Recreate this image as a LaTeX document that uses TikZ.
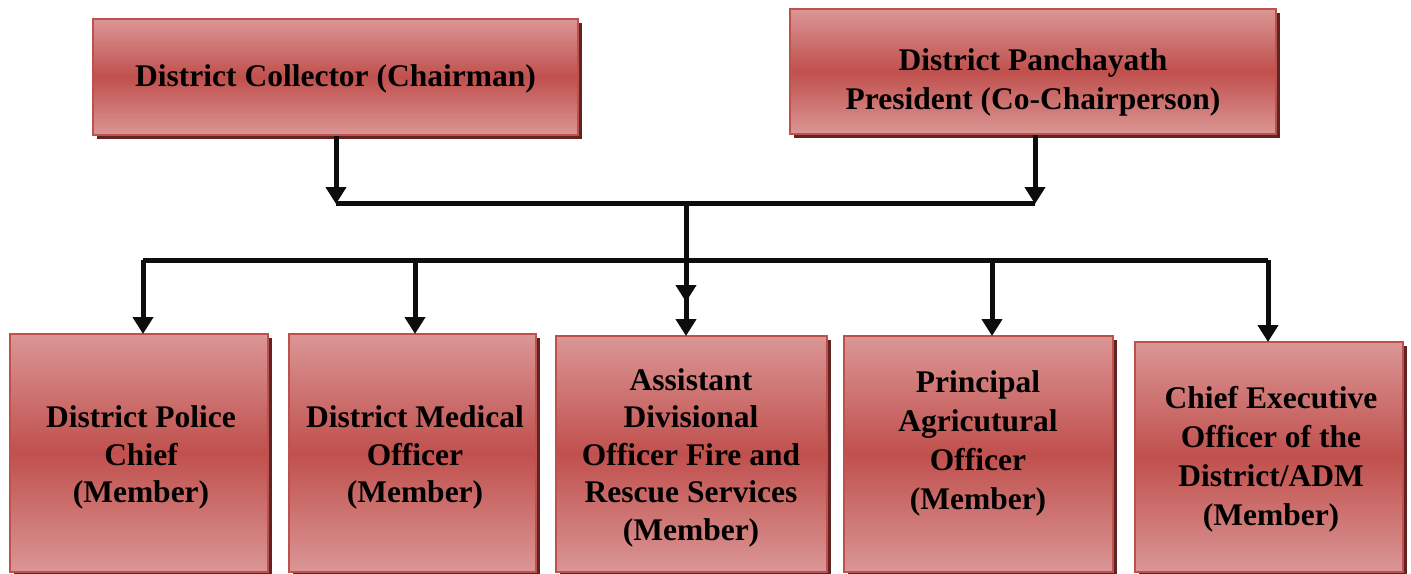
\documentclass[tikz,border=0pt]{standalone}
\usepackage{fontspec}
\setmainfont{Liberation Serif}
\usetikzlibrary{arrows.meta,shadows}
\definecolor{boxlight}{RGB}{218,150,149}
\definecolor{boxdark}{RGB}{192,80,77}
\definecolor{boxedge}{RGB}{190,80,77}
\definecolor{boxshadow}{RGB}{98,36,35}
\tikzset{
  orgbox/.style={rectangle, draw=boxedge, line width=2pt, top color=boxlight, bottom color=boxlight, middle color=boxdark,
    drop shadow={shadow xshift=4pt, shadow yshift=-4pt, fill=boxshadow, opacity=1}, inner sep=0pt},
  orgtext/.style={align=center, font=\fontsize{31.5}{37.5}\selectfont\bfseries, inner sep=0pt},
  widetext/.style={orgtext, font=\fontsize{31.5}{39}\selectfont\bfseries},
  conn/.style={line width=5pt, draw=black!95},
  arr/.style={conn, -{Triangle[width=20pt,length=17pt]}, shorten >=-1pt}
}
\begin{document}
\begin{tikzpicture}[x=1pt,y=-1pt]
\useasboundingbox (0,0) rectangle (1411,573);
% top boxes
\node[orgbox, minimum width=485pt, minimum height=116pt] (top1) at (335.5,77) {};
\node[orgbox, minimum width=486pt, minimum height=125pt] (top2) at (1033,71.5) {};
\node[orgtext] (top1t) at (335.5,79) {District Collector (Chairman)};
\node[widetext] (top2t) at (1033,82) {District Panchayath\\President (Co-Chairperson)};
% bottom boxes
\node[orgbox, minimum width=258pt, minimum height=238pt] (b1) at (139,453) {};
\node[orgbox, minimum width=247pt, minimum height=238pt] (b2) at (412.5,453) {};
\node[orgbox, minimum width=271pt, minimum height=236pt] (b3) at (691.5,454) {};
\node[orgbox, minimum width=269pt, minimum height=236pt] (b4) at (978.5,454) {};
\node[orgbox, minimum width=268pt, minimum height=230pt] (b5) at (1269,457) {};
\node[orgtext] (b1t) at (141,457.5) {District Police\\Chief\\(Member)};
\node[orgtext] (b2t) at (415,457.5) {District Medical\\Officer\\(Member)};
\node[orgtext] (b3t) at (691,457.5) {Assistant\\Divisional\\Officer Fire and\\Rescue Services\\(Member)};
\node[widetext] (b4t) at (978,443) {Principal\\Agricutural\\Officer\\(Member)};
\node[widetext] (b5t) at (1271,459.5) {Chief Executive\\Officer of the\\District/ADM\\(Member)};
% junction coordinates
\coordinate (j1) at (336,203);
\coordinate (j2) at (1035,203);
\coordinate (jm) at (686,203);
\coordinate (jmid) at (686,301);
\coordinate (c1) at (143,260);
\coordinate (c2) at (415,260);
\coordinate (c3) at (686,260);
\coordinate (c4) at (992,260);
\coordinate (c5) at (1268,260);
% connectors
\draw[arr] (top1.south -| j1) -- (j1);
\draw[arr] (top2.south -| j2) -- (j2);
\draw[conn] (j1) -- (j2);
\draw[arr] (jm) -- (jmid);
\draw[conn] (c1) -- (c5);
\draw[arr] (c1) -- (c1 |- b1.north);
\draw[arr] (c2) -- (c2 |- b2.north);
\draw[arr] (c3) -- (c3 |- b3.north);
\draw[arr] (c4) -- (c4 |- b4.north);
\draw[arr] (c5) -- (c5 |- b5.north);
\end{tikzpicture}
\end{document}
